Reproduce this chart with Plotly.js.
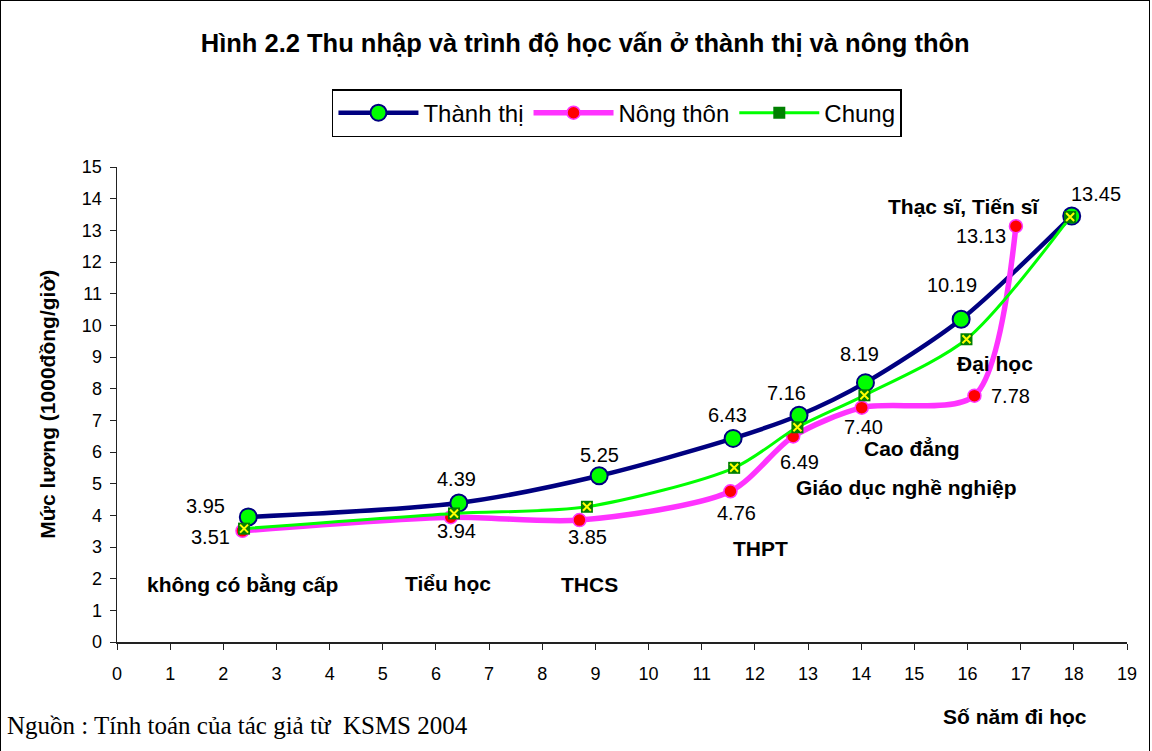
<!DOCTYPE html>
<html>
<head>
<meta charset="utf-8">
<script src="https://cdn.plot.ly/plotly-3.0.1.min.js"></script>
<style>
html,body{margin:0;padding:0;background:#fff;overflow:hidden;}
#wrap{position:relative;width:1152px;height:751px;}
#plot{width:1152px;height:751px;}
#frame{position:absolute;left:0;top:0;width:1148px;height:760px;border:1.5px solid #000;pointer-events:none;}
</style>
</head>
<body>
<div id="wrap"><div id="plot"></div><div id="frame"></div></div>
<script>
// Years of schooling and hourly wage (1000 dong/hour)
const urbanYears = [2.47, 6.43, 9.07, 11.59, 12.83, 14.08, 15.88, 17.96];
const urbanWage  = [3.95, 4.39, 5.25, 6.43, 7.16, 8.19, 10.19, 13.45];
const ruralYears = [2.36, 6.28, 8.70, 11.54, 12.72, 14.01, 16.13, 16.91];
const ruralWage  = [3.51, 3.94, 3.85, 4.76, 6.49, 7.40, 7.78, 13.13];
const allYears   = [2.39, 6.34, 8.84, 11.61, 12.80, 14.06, 15.98, 17.93];
const allWage    = [3.58, 4.06, 4.27, 5.50, 6.78, 7.79, 9.56, 13.42];
const xTicks = [0,1,2,3,4,5,6,7,8,9,10,11,12,13,14,15,16,17,18,19];
const yTicks = [0,1,2,3,4,5,6,7,8,9,10,11,12,13,14,15];
const levelNames = ["không có bằng cấp","Tiểu học","THCS","THPT","Giáo dục nghề nghiệp","Cao đẳng","Đại học","Thạc sĩ, Tiến sĩ"];

// layout-only: label positions / offsets
const levelPos = [[2.37,1.83],[6.23,1.86],[8.88,1.83],[12.11,2.94],[14.86,4.89],[14.96,6.11],[16.51,8.80],[15.93,13.74]];
const urbanShift = [[-43,11],[-2,24],[0,21],[-6,23],[-13,22],[-6,29],[-9,34],[24,22]];
const ruralShift = [[-32,-6],[6,-14],[8,-17],[6,-22],[6,-26],[2,-19],[36,0],[-35,-10]];

const traces = [
  {x: urbanYears, y: urbanWage, name: 'Thành thị', mode: 'lines+markers',
   line: {color: '#000080', width: 4.5, shape: 'spline', smoothing: 0.8},
   marker: {color: '#00FF00', size: 17, line: {color: '#000080', width: 2}}},
  {x: ruralYears, y: ruralWage, name: 'Nông thôn', mode: 'lines+markers',
   line: {color: '#FF33FF', width: 5.5, shape: 'spline', smoothing: 0.8},
   marker: {color: '#FF0000', size: 13, line: {color: '#FF33FF', width: 1.5}}},
  {x: allYears, y: allWage, name: 'Chung', mode: 'lines+markers',
   line: {color: '#00FF00', width: 3, shape: 'spline', smoothing: 0.8},
   marker: {color: '#008000', size: 12, symbol: 'square', line: {width: 0}}},
  {x: allYears, y: allWage, name: 'Chung', mode: 'markers', showlegend: false, hoverinfo: 'skip',
   marker: {color: '#FFFF00', size: 8, symbol: 'x-thin-open', line: {color: '#FFFF00', width: 2}}}
];

const numFont = {family: 'Arial, "Liberation Sans", sans-serif', size: 20, color: '#000'};
const boldFont = {family: 'Arial, "Liberation Sans", sans-serif', size: 21, color: '#000', weight: 'bold'};

const annotations = [];
urbanYears.forEach((x, i) => annotations.push({x: x, y: urbanWage[i], xref: 'x', yref: 'y',
  xanchor: 'center', yanchor: 'middle',
  text: urbanWage[i].toFixed(2), showarrow: false, font: numFont,
  xshift: urbanShift[i][0], yshift: urbanShift[i][1]}));
ruralYears.forEach((x, i) => annotations.push({x: x, y: ruralWage[i], xref: 'x', yref: 'y',
  xanchor: 'center', yanchor: 'middle',
  text: ruralWage[i].toFixed(2), showarrow: false, font: numFont,
  xshift: ruralShift[i][0], yshift: ruralShift[i][1]}));
levelNames.forEach((t, i) => annotations.push({x: levelPos[i][0], y: levelPos[i][1], xref: 'x', yref: 'y',
  xanchor: 'center', yanchor: 'middle',
  text: '<b>' + t + '</b>', showarrow: false, font: boldFont}));
annotations.push({xref: 'paper', yref: 'paper', x: -0.069, y: 0.5, xanchor: 'center', yanchor: 'middle',
  textangle: -90, showarrow: false,
  text: '<b>Mức lương (1000đồng/giờ)</b>', font: {family: 'Arial, "Liberation Sans", sans-serif', size: 21, color: '#000'}});
annotations.push({xref: 'paper', yref: 'paper', x: 0.889, y: -0.156, xanchor: 'center', yanchor: 'middle', showarrow: false,
  text: '<b>Số năm đi học</b>', font: {family: 'Arial, "Liberation Sans", sans-serif', size: 21, color: '#000'}});
annotations.push({xref: 'paper', yref: 'paper', x: -0.111, xanchor: 'left', y: -0.175, yanchor: 'middle', showarrow: false,
  text: 'Nguồn : Tính toán của tác giả từ  KSMS 2004', font: {family: '"Times New Roman", "Liberation Serif", serif', size: 25, color: '#000'}});

const layout = {
  width: 1152, height: 751,
  margin: {l: 117, r: 25, t: 167, b: 109},
  paper_bgcolor: '#fff', plot_bgcolor: '#fff',
  title: {text: '<b>Hình 2.2 Thu nhập và trình độ học vấn ở thành thị và nông thôn</b>',
    x: 0.508, xref: 'container', xanchor: 'center', y: 0.943, yref: 'container', yanchor: 'middle',
    font: {family: 'Arial, "Liberation Sans", sans-serif', size: 25.5, color: '#000'}},
  xaxis: {range: [0, 19], tickvals: xTicks, ticktext: xTicks.map(String), showgrid: false, zeroline: false,
    showline: true, linecolor: '#222', linewidth: 1.5, ticks: 'outside', ticklen: 6, tickcolor: '#222',
    ticklabelstandoff: 9,
    tickfont: {family: 'Arial, "Liberation Sans", sans-serif', size: 18, color: '#000'}},
  yaxis: {range: [0, 15], tickvals: yTicks, ticktext: yTicks.map(String), showgrid: false, zeroline: false,
    showline: true, linecolor: '#222', linewidth: 1.5, ticks: 'outside', ticklen: 6, tickcolor: '#222',
    ticklabelstandoff: 4,
    tickfont: {family: 'Arial, "Liberation Sans", sans-serif', size: 18, color: '#000'}},
  showlegend: true,
  legend: {orientation: 'h', x: 0.495, xanchor: 'center', y: 1.164, yanchor: 'top',
    bordercolor: '#000', borderwidth: 1.5, bgcolor: '#fff', itemwidth: 80,
    font: {family: 'Arial, "Liberation Sans", sans-serif', size: 24, color: '#000'}},
  annotations: annotations
};

Plotly.newPlot('plot', traces, layout, {displayModeBar: false, staticPlot: true});
</script>
</body>
</html>
